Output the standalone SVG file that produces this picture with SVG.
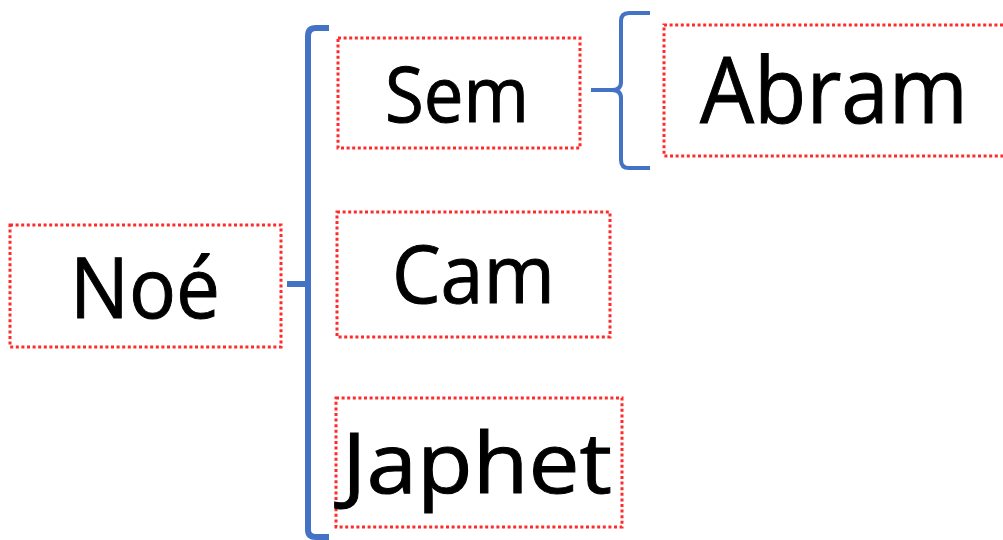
<svg xmlns="http://www.w3.org/2000/svg" width="1003" height="540" viewBox="0 0 1003 540">
<style>
.box{fill:none;stroke:#ff2a2a;stroke-width:3;stroke-dasharray:3 2.6}
.lbl{font-family:"Open Sans","Noto Sans",sans-serif;fill:#000;stroke:#000;stroke-width:1;text-anchor:middle}
.br{fill:none;stroke:#4472c4;stroke-linecap:butt;stroke-linejoin:round}
</style>
<rect width="1003" height="540" fill="#fff"/>
<g id="connectors">
<path class="br" stroke-width="6" d="M329,28 L316,28 Q308,28 308,36 L308,530 Q308,537 316,537 L329,537 M287,284 L308,284"/>
<path class="br" stroke-width="4" d="M650,13 L629,13 Q621,13 621,21 L621,82 Q621,90 612,90 L591,90 M612,90 Q621,90 621,98 L621,160 Q621,168 629,168 L650,168"/>
</g>
<g id="noe"><rect class="box" x="10" y="225" width="271" height="122"/><text class="lbl" x="145" y="318" font-size="84" textLength="150" lengthAdjust="spacingAndGlyphs">Noé</text></g>
<g id="sem"><rect class="box" x="338" y="38" width="242" height="110"/><text class="lbl" x="457" y="122" font-size="76" textLength="144" lengthAdjust="spacingAndGlyphs">Sem</text></g>
<g id="cam"><rect class="box" x="337" y="212" width="273" height="125"/><text class="lbl" x="473.5" y="303" font-size="81" textLength="163" lengthAdjust="spacingAndGlyphs">Cam</text></g>
<g id="japhet"><rect class="box" x="336" y="398" width="286" height="129"/><text class="lbl" x="477" y="493" font-size="85" textLength="270" lengthAdjust="spacingAndGlyphs">Japhet</text></g>
<g id="abram"><rect class="box" x="664" y="25" width="345" height="131"/><text class="lbl" x="834" y="123" font-size="92" textLength="268" lengthAdjust="spacingAndGlyphs">Abram</text></g>
</svg>
